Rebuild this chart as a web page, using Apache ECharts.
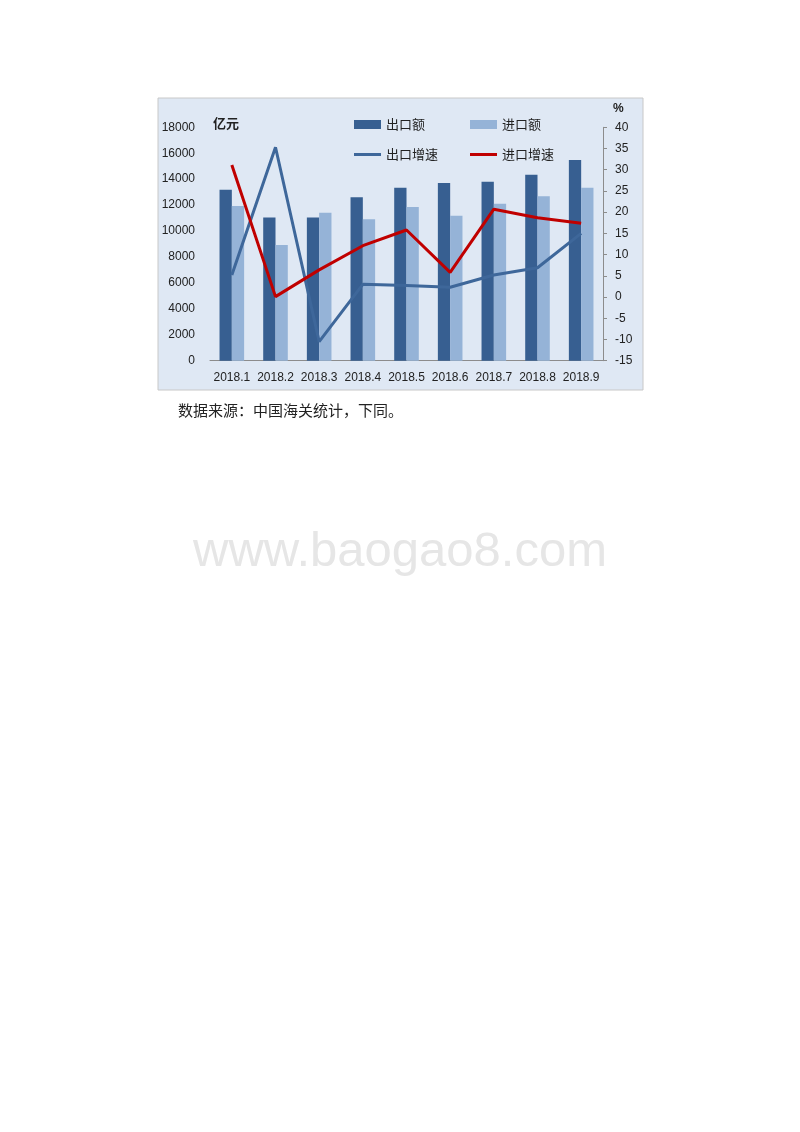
<!DOCTYPE html>
<html><head><meta charset="utf-8">
<script src="https://cdn.jsdelivr.net/npm/echarts@6/dist/echarts.min.js"></script>
<style>html,body{margin:0;padding:0;background:#fff}#c{width:800px;height:1132px}</style>
</head><body><div id="c"></div>
<script>
var categories = ['2018.1','2018.2','2018.3','2018.4','2018.5','2018.6','2018.7','2018.8','2018.9'];
var exportValue = [13180, 11050, 11050, 12600, 13340, 13700, 13800, 14340, 15480];
var importValue = [11930, 8920, 11410, 10900, 11850, 11180, 12100, 12680, 13340];
var exportGrowth = [5.2, 35.3, -10.5, 3.0, 2.7, 2.3, 5.2, 6.9, 15.0];
var importGrowth = [31.1, 0.1, 6.4, 12.1, 15.8, 5.8, 20.7, 18.7, 17.4];
var leftTicks = {min: 0, max: 18000, interval: 2000};
var rightTicks = {min: -15, max: 40, interval: 5};

var chart = echarts.init(document.getElementById('c'), null, {renderer: 'canvas'});
var fontF = '"Liberation Sans", "Noto Sans CJK SC", sans-serif';
var cjk = '"Noto Sans CJK SC", sans-serif';
var legText = {fontFamily: cjk, fontSize: 13, color: '#222'};
function leg(name, x, y, h) {
  return {data: [{name: name, icon: 'rect'}], left: x, top: y, itemWidth: 27, itemHeight: h,
          itemGap: 0, padding: 0, textStyle: legText};
}
chart.setOption({
  animation: false,
  backgroundColor: '#ffffff',
  graphic: [
    {type: 'rect', z: -10, shape: {x: 158, y: 98, width: 485, height: 292},
     style: {fill: '#dfe8f4', stroke: '#c8c8c8', lineWidth: 1}},
    {type: 'text', left: 213, top: 117, style: {text: '亿元', font: 'bold 13px ' + cjk, fill: '#222'}},
    {type: 'text', left: 613, top: 103, style: {text: '%', font: 'bold 12px ' + fontF, fill: '#222'}},
    {type: 'text', left: 178, top: 403, style: {text: '数据来源：中国海关统计，下同。', font: '15px ' + cjk, fill: '#222'}},
    {type: 'text', left: 'center', top: 528, style: {text: 'www.baogao8.com', font: '49px "Liberation Sans", Arial, sans-serif', fill: '#e6e6e6'}}
  ],
  legend: [
    leg('出口额', 354, 118, 9),
    leg('进口额', 470, 118, 9),
    leg('出口增速', 354, 148, 3),
    leg('进口增速', 470, 148, 3)
  ],
  grid: {left: 210, top: 127.3, width: 393, height: 233.4, containLabel: false},
  xAxis: {
    type: 'category', data: categories, boundaryGap: true,
    axisLine: {lineStyle: {color: '#8c8c8c', width: 1}},
    axisTick: {show: false},
    axisLabel: {color: '#222', fontSize: 12, fontFamily: fontF, margin: 11, interval: 0}
  },
  yAxis: [
    {type: 'value', min: leftTicks.min, max: leftTicks.max, interval: leftTicks.interval,
     axisLine: {show: false}, axisTick: {show: false}, splitLine: {show: false},
     axisLabel: {color: '#222', fontSize: 12, fontFamily: fontF, margin: 15, formatter: function (v) { return String(v); }}},
    {type: 'value', min: rightTicks.min, max: rightTicks.max, interval: rightTicks.interval, position: 'right',
     axisLine: {show: true, lineStyle: {color: '#8c8c8c', width: 1}},
     axisTick: {show: true, length: 4, inside: false, lineStyle: {color: '#8c8c8c'}},
     splitLine: {show: false},
     axisLabel: {color: '#222', fontSize: 12, fontFamily: fontF, margin: 12}}
  ],
  series: [
    {name: '出口额', type: 'bar', data: exportValue, barWidth: 12.3, barGap: '0%',
     itemStyle: {color: '#375f91'}},
    {name: '进口额', type: 'bar', data: importValue, barWidth: 12.3, barGap: '0%',
     itemStyle: {color: '#95b3d7'}},
    {name: '出口增速', type: 'line', yAxisIndex: 1, data: exportGrowth, symbol: 'none',
     lineStyle: {color: '#3e679a', width: 3}, itemStyle: {color: '#3e679a'}, z: 3},
    {name: '进口增速', type: 'line', yAxisIndex: 1, data: importGrowth, symbol: 'none',
     lineStyle: {color: '#c00000', width: 3}, itemStyle: {color: '#c00000'}, z: 4}
  ]
});
</script></body></html>
